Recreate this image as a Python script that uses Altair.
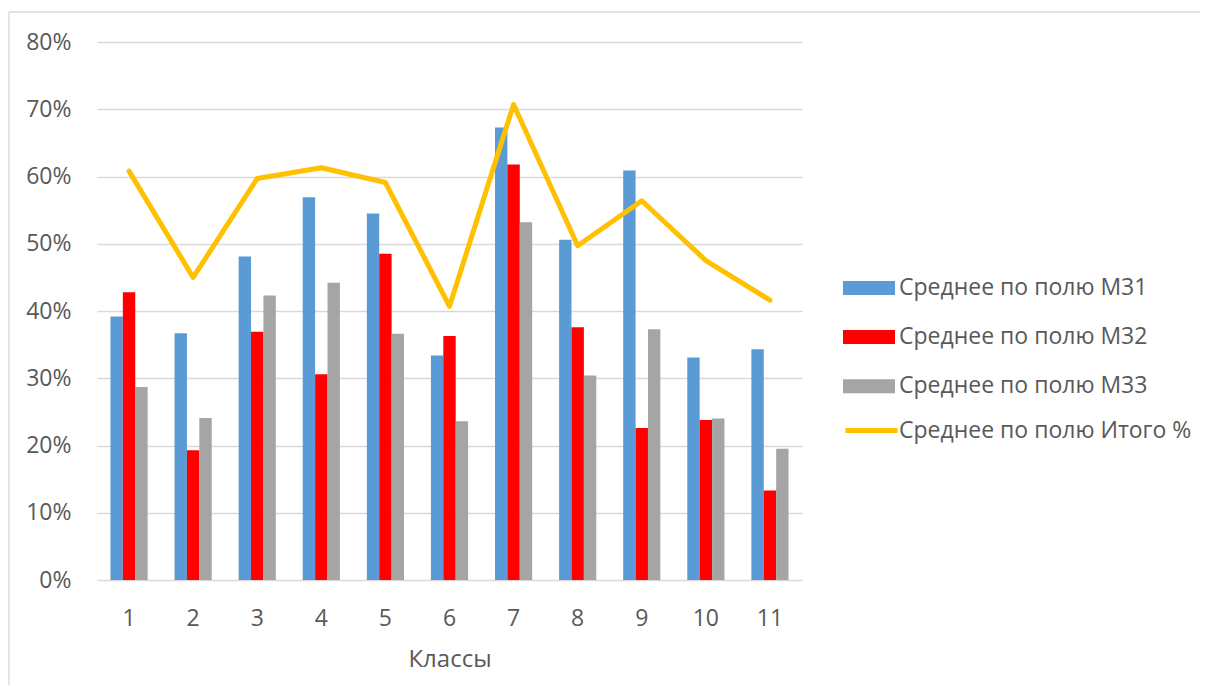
import altair as alt
import pandas as pd

classes = ["1", "2", "3", "4", "5", "6", "7", "8", "9", "10", "11"]
m31 = [0.392, 0.367, 0.481, 0.569, 0.545, 0.334, 0.673, 0.506, 0.609, 0.331, 0.343]
m32 = [0.428, 0.193, 0.369, 0.306, 0.485, 0.363, 0.618, 0.376, 0.226, 0.238, 0.133]
m33 = [0.287, 0.241, 0.423, 0.442, 0.366, 0.236, 0.532, 0.304, 0.373, 0.240, 0.195]
total = [0.608, 0.450, 0.597, 0.613, 0.591, 0.407, 0.707, 0.497, 0.564, 0.475, 0.416]

bar_names = ["Среднее по полю М31", "Среднее по полю М32", "Среднее по полю М33"]
line_name = "Среднее по полю Итого %"
bar_colors = ["#5B9BD5", "#FF0000", "#A5A5A5"]
line_color = "#FFC000"

rows = []
for i, c in enumerate(classes):
    for name, vals in zip(bar_names, [m31, m32, m33]):
        rows.append({"cls": c, "series": name, "value": vals[i]})
bars_df = pd.DataFrame(rows)
line_df = pd.DataFrame({"cls": classes, "value": total, "series2": [line_name] * len(classes)})

FONT = "Open Sans"
TXT = "#595959"
FS = 23

xscale = alt.Scale(domain=classes, paddingInner=0.42, paddingOuter=0.21)
yscale = alt.Scale(domain=[0, 0.8])

one = pd.DataFrame({"a": [0]})
border_top = alt.Chart(one).mark_rule(stroke="#d9d9d9", strokeWidth=1.3).encode(
    x=alt.value(-88), x2=alt.value(1300), y=alt.value(-30)
)
border_left = alt.Chart(one).mark_rule(stroke="#d9d9d9", strokeWidth=1.3).encode(
    x=alt.value(-88), y=alt.value(-30), y2=alt.value(800)
)

bars = alt.Chart(bars_df).mark_bar().encode(
    x=alt.X("cls:N", scale=xscale, sort=classes,
            axis=alt.Axis(title="Классы", labelAngle=0, ticks=False, domain=False,
                          labelFontSize=FS, labelColor=TXT, labelFont=FONT,
                          labelPadding=27, titleFontSize=24, titleColor=TXT,
                          titleFont=FONT, titleFontWeight="normal", titlePadding=17)),
    xOffset=alt.XOffset("series:N", scale=alt.Scale(domain=bar_names, paddingInner=0, paddingOuter=0)),
    y=alt.Y("value:Q", scale=yscale,
            axis=alt.Axis(title=None, values=[0, 0.1, 0.2, 0.3, 0.4, 0.5, 0.6, 0.7, 0.8],
                          format=".0%", ticks=False, domain=False,
                          labelFontSize=FS, labelColor=TXT, labelFont=FONT,
                          labelPadding=26, gridColor="#d9d9d9", gridWidth=1.3)),
    color=alt.Color("series:N", scale=alt.Scale(domain=bar_names, range=bar_colors),
                    legend=alt.Legend(title=None, orient="none", legendX=759, legendY=233,
                                      padding=0, symbolType="M-2,-0.54H2V0.54H-2Z",
                                      symbolSize=676, symbolStrokeWidth=0,
                                      labelOffset=17, labelFontSize=FS, labelColor=TXT,
                                      labelFont=FONT, rowPadding=24.1, labelLimit=0)),
)

line = alt.Chart(line_df).mark_line(strokeWidth=5, strokeJoin="round", strokeCap="round").encode(
    x=alt.X("cls:N", scale=xscale, sort=classes),
    y=alt.Y("value:Q", scale=yscale),
    stroke=alt.Stroke("series2:N", scale=alt.Scale(domain=[line_name], range=[line_color]),
                      legend=alt.Legend(title=None, orient="none", legendX=759, legendY=373,
                                        padding=0, symbolType="M-2,0H2", symbolSize=676,
                                        symbolStrokeWidth=5,
                                        labelOffset=12, labelFontSize=FS, labelColor=TXT,
                                        labelFont=FONT, labelLimit=0)),
)

chart = alt.layer(border_top, border_left, bars, line).properties(
    width=705, height=538,
    background="white",
    autosize=alt.AutoSizeParams(type="none"),
    padding={"left": 89, "top": 34, "right": 398, "bottom": 105},
).configure_view(stroke=None)

chart.save("out.html", embed_options={"renderer": "svg", "actions": False})
